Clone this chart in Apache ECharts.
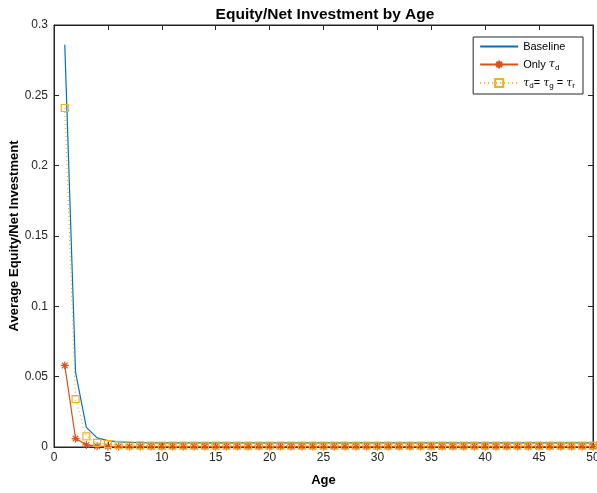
<!DOCTYPE html>
<html>
<head>
<meta charset="utf-8">
<script src="https://cdn.jsdelivr.net/npm/echarts@6/dist/echarts.min.js"></script>
<style>
  html, body { margin: 0; padding: 0; background: #fff; }
  #main { width: 597px; height: 493px; }
</style>
</head>
<body>
<div id="main"></div>
<script>
// ages 1..50
var ages = [];
for (var i = 1; i <= 50; i++) ages.push(i);

// values
var baseline = [0.286, 0.053, 0.014, 0.0065, 0.0045, 0.0037, 0.0033, 0.0031, 0.003, 0.003,
  0.003, 0.003, 0.003, 0.003, 0.003, 0.003, 0.003, 0.003, 0.003, 0.003,
  0.003, 0.003, 0.003, 0.003, 0.003, 0.003, 0.003, 0.003, 0.003, 0.003,
  0.003, 0.003, 0.003, 0.003, 0.003, 0.003, 0.003, 0.003, 0.003, 0.003,
  0.003, 0.003, 0.003, 0.003, 0.003, 0.003, 0.003, 0.003, 0.003, 0.003];
var onlyTd = [0.058, 0.006, 0.0015, 0.0006, 0.0004, 0.0003, 0.0003, 0.0003, 0.0003, 0.0003,
  0.0003, 0.0003, 0.0003, 0.0003, 0.0003, 0.0003, 0.0003, 0.0003, 0.0003, 0.0003,
  0.0003, 0.0003, 0.0003, 0.0003, 0.0003, 0.0003, 0.0003, 0.0003, 0.0003, 0.0003,
  0.0003, 0.0003, 0.0003, 0.0003, 0.0003, 0.0003, 0.0003, 0.0003, 0.0003, 0.0003,
  0.0003, 0.0003, 0.0003, 0.0003, 0.0003, 0.0003, 0.0003, 0.0003, 0.0003, 0.0003];
var allEqual = [0.241, 0.034, 0.0075, 0.003, 0.002, 0.0015, 0.0012, 0.0011, 0.001, 0.001,
  0.001, 0.001, 0.001, 0.001, 0.001, 0.001, 0.001, 0.001, 0.001, 0.001,
  0.001, 0.001, 0.001, 0.001, 0.001, 0.001, 0.001, 0.001, 0.001, 0.001,
  0.001, 0.001, 0.001, 0.001, 0.001, 0.001, 0.001, 0.001, 0.001, 0.001,
  0.001, 0.001, 0.001, 0.001, 0.001, 0.001, 0.001, 0.001, 0.001, 0.001];

var yTicks = [0, 0.05, 0.1, 0.15, 0.2, 0.25, 0.3];

function pairs(vals) {
  return vals.map(function (v, i) { return [ages[i], v]; });
}

var font = 'Liberation Sans, Arial, Helvetica, sans-serif';
var axisLine = { show: true, onZero: false, lineStyle: { color: '#262626', width: 1 } };
var tick = { show: true, inside: true, length: 5, lineStyle: { color: '#262626' } };

var chart = echarts.init(document.getElementById('main'));
chart.setOption({
  animation: false,
  backgroundColor: '#fff',
  title: {
    text: 'Equity/Net Investment by Age',
    left: 320, top: 2, textAlign: 'center',
    textStyle: { fontFamily: font, fontSize: 15.5, fontWeight: 'bold', color: '#000' }
  },
  grid: {
    left: 54, right: 4, top: 25, bottom: 46,
    outerBoundsMode: 'none', containLabel: false,
    show: true, borderColor: '#262626', borderWidth: 1, backgroundColor: 'transparent'
  },
  legend: {
    right: 14, top: 37, orient: 'vertical',
    backgroundColor: '#fff', borderColor: '#262626', borderWidth: 1,
    borderRadius: 0, padding: [4, 8, 4, 6], itemGap: 6,
    itemWidth: 38, itemHeight: 10,
    textStyle: {
      fontFamily: font, fontSize: 11, color: '#000',
      rich: {
        t: { fontFamily: 'DejaVu Serif', fontStyle: 'italic', fontSize: 11 },
        s: { fontSize: 8, verticalAlign: 'bottom', padding: [6, 0, 0, 0] }
      }
    },
    formatter: function (name) {
      if (name === 'Only td') return 'Only {t|τ}{s|d}';
      if (name === 'all') return '{t|τ}{s|d}= {t|τ}{s|g} = {t|τ}{s|r}';
      return name;
    },
    data: ['Baseline', 'Only td', 'all']
  },
  xAxis: [{
    type: 'value', min: 0, max: 50, interval: 5,
    name: 'Age', nameLocation: 'middle', nameGap: 27, nameMoveOverlap: false,
    nameTextStyle: { fontFamily: font, fontSize: 13, fontWeight: 'bold', color: '#000' },
    axisLine: axisLine, axisTick: tick, splitLine: { show: false },
    axisLabel: { fontFamily: font, fontSize: 12, color: '#262626', margin: 5 }
  }, {
    type: 'value', position: 'top', min: 0, max: 50, interval: 5,
    axisLine: axisLine, axisTick: tick, splitLine: { show: false },
    axisLabel: { show: false }
  }],
  yAxis: [{
    type: 'value', min: 0, max: 0.3, interval: 0.05,
    name: 'Average Equity/Net Investment', nameLocation: 'middle', nameGap: 33,
    nameMoveOverlap: false,
    nameTextStyle: { fontFamily: font, fontSize: 13, fontWeight: 'bold', color: '#000' },
    axisLine: axisLine, axisTick: tick, splitLine: { show: false },
    axisLabel: {
      fontFamily: font, fontSize: 12, color: '#262626', margin: 6,
      formatter: function (v) {
        var t = yTicks.filter(function (y) { return Math.abs(y - v) < 1e-9; })[0];
        return t === undefined ? '' : String(+t.toFixed(2));
      }
    }
  }, {
    type: 'value', position: 'right', min: 0, max: 0.3, interval: 0.05,
    axisLine: axisLine, axisTick: tick, splitLine: { show: false },
    axisLabel: { show: false }
  }],
  series: [{
    name: 'Baseline', type: 'line', data: pairs(baseline),
    symbol: 'circle', showSymbol: false, color: '#0072BD',
    itemStyle: { opacity: 0 },
    lineStyle: { width: 1.2, color: '#0072BD', opacity: 1 }, z: 3
  }, {
    name: 'Only td', type: 'line', data: pairs(onlyTd),
    symbol: 'path://M0,-5L0,5M-5,0L5,0M-3.5,-3.5L3.5,3.5M-3.5,3.5L3.5,-3.5', symbolSize: 8,
    color: '#D95319',
    itemStyle: { color: 'none', borderColor: '#D95319', borderWidth: 1.2 },
    lineStyle: { width: 1.2, color: '#D95319' }, z: 4
  }, {
    name: 'all', type: 'line', data: pairs(allEqual),
    symbol: 'rect', symbolSize: 7, color: '#EDB120',
    itemStyle: { color: 'rgba(0,0,0,0)', borderColor: '#EDB120', borderWidth: 1.2 },
    lineStyle: { width: 1.2, type: [1, 3], color: '#EDB120' }, z: 5
  }, {
    // empty series so the top/right box axes get drawn
    type: 'line', xAxisIndex: 1, yAxisIndex: 1, data: [], silent: true
  }]
});
</script>
</body>
</html>
